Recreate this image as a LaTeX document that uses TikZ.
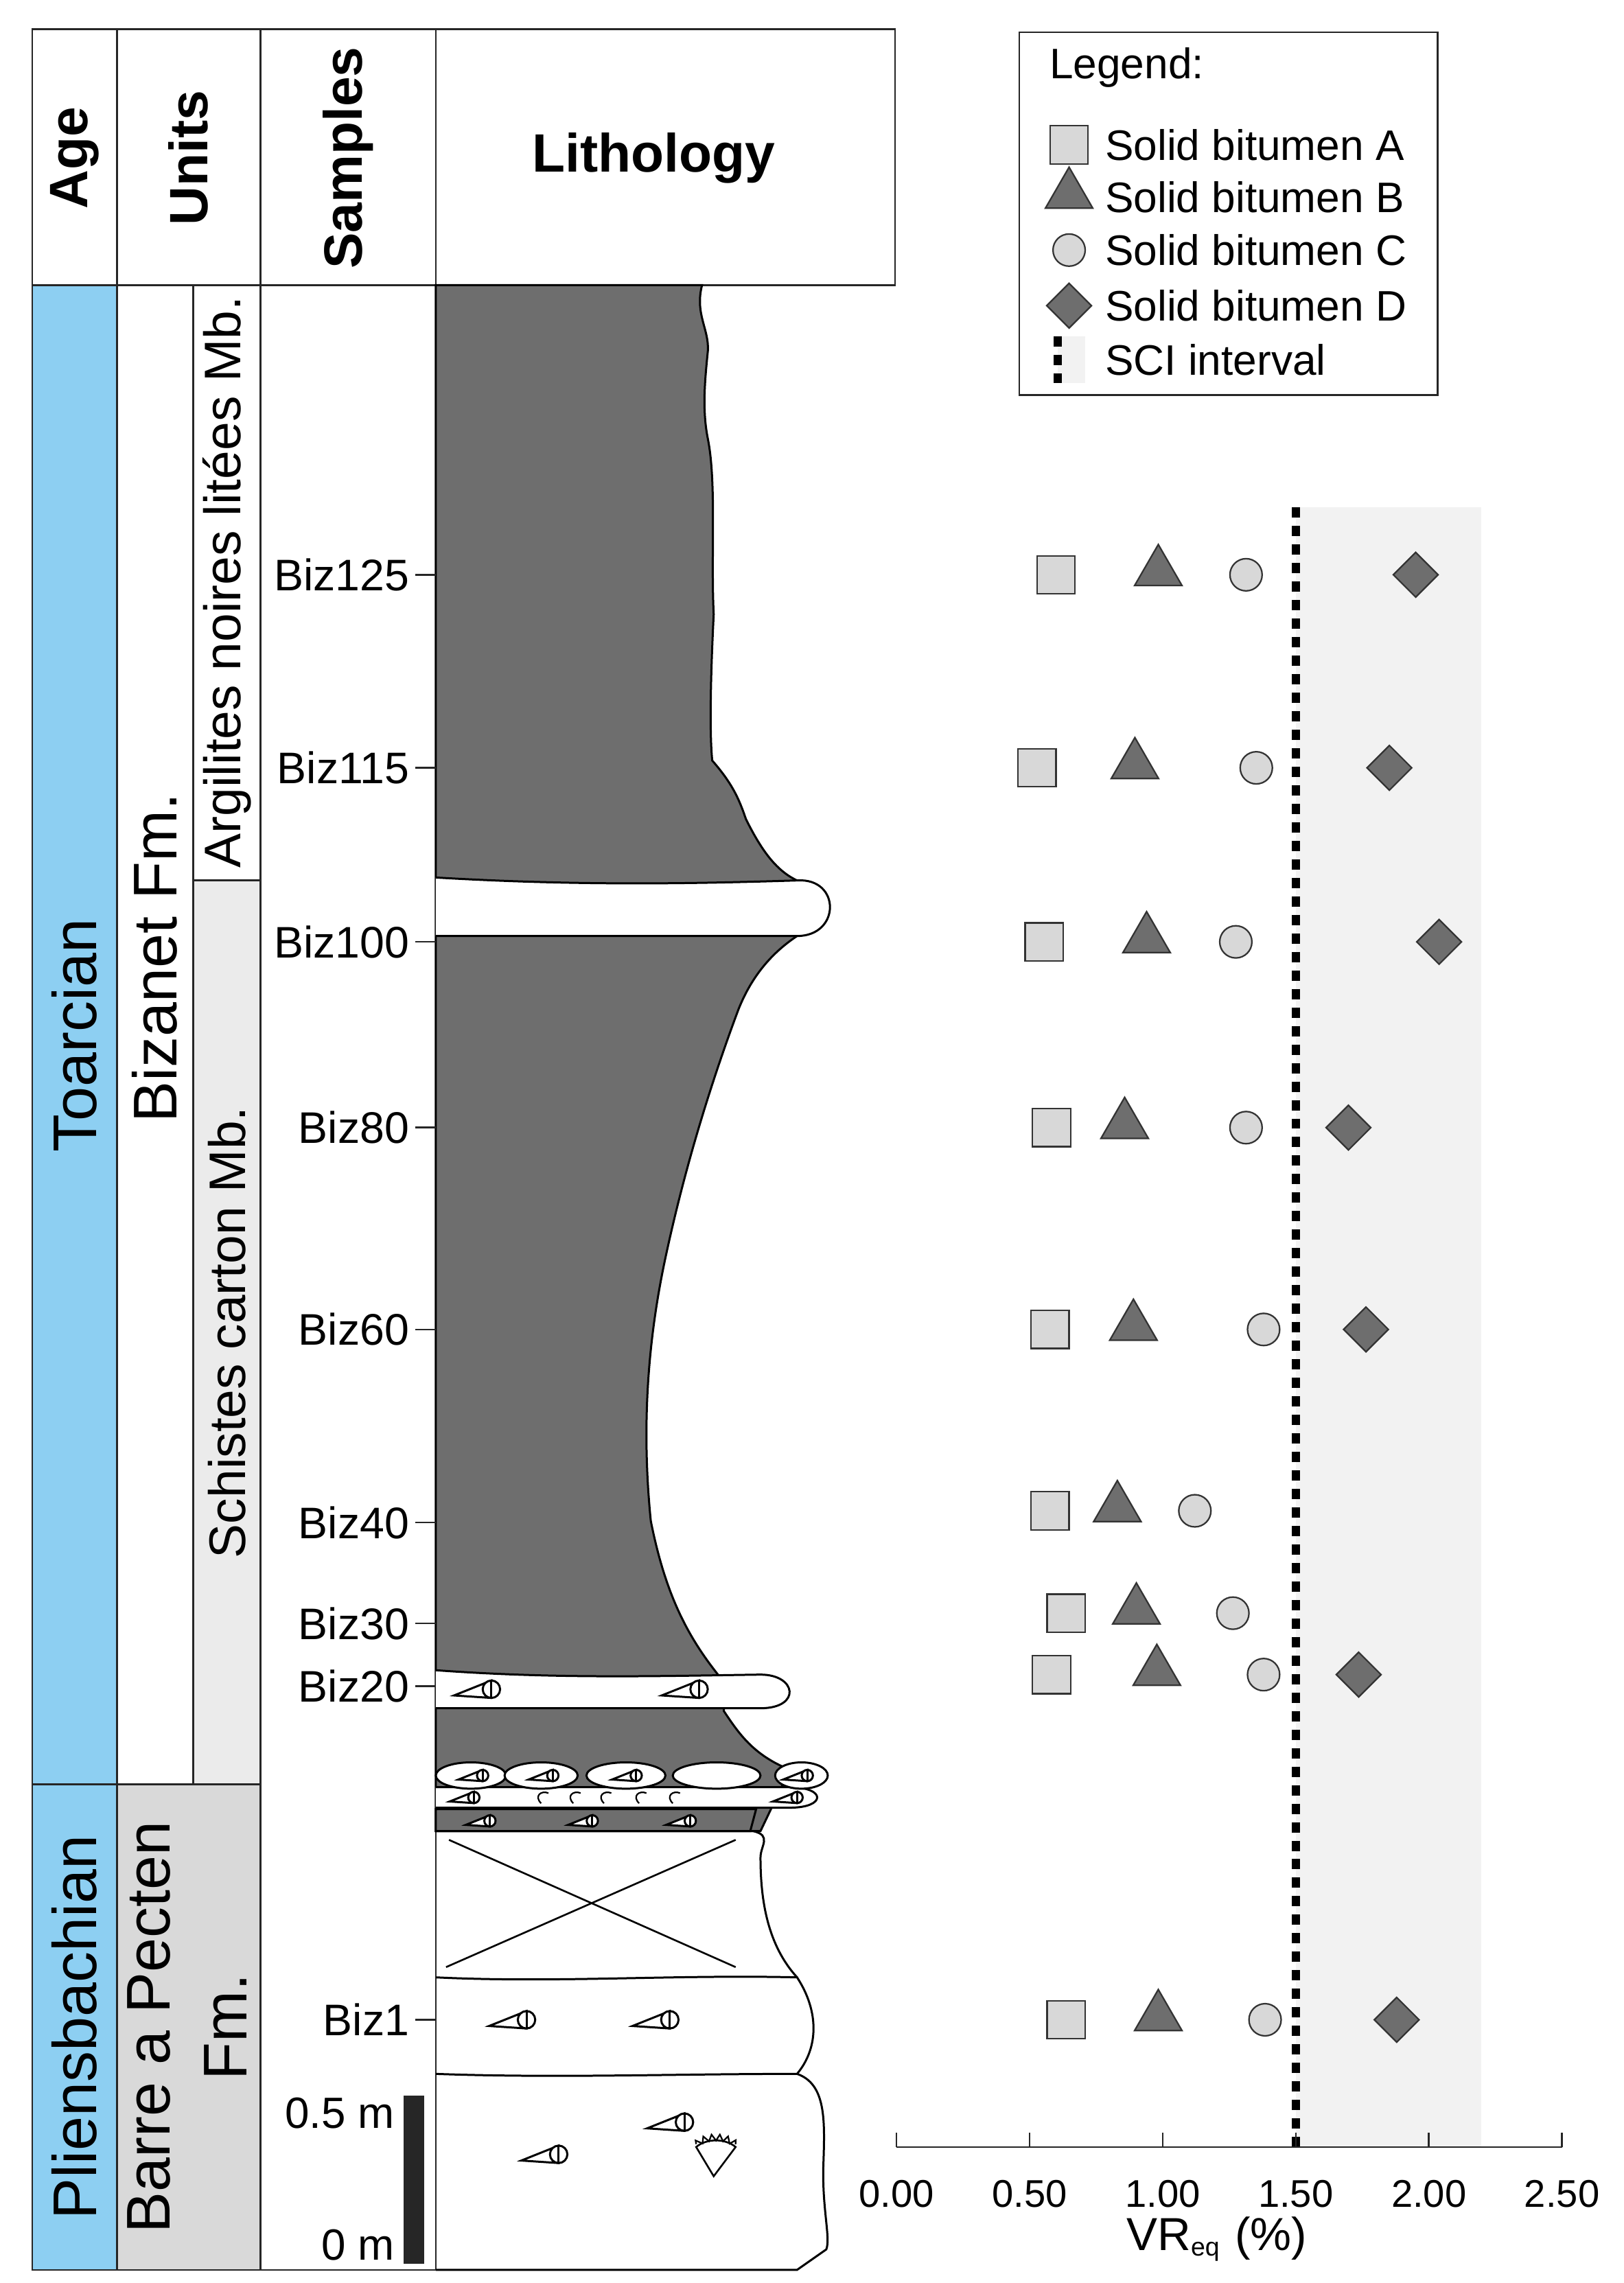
\documentclass[tikz,border=0pt]{standalone}
\usepackage{fontspec}
\setmainfont{Liberation Sans}
\usetikzlibrary{shapes.geometric,decorations.pathmorphing}
\definecolor{blueA}{HTML}{8DCFF2}
\definecolor{grayB}{HTML}{D9D9D9}
\definecolor{grayC}{HTML}{EBEBEB}
\definecolor{dark}{HTML}{6E6E6E}
\definecolor{mk}{HTML}{D8D8D8}
\definecolor{mkd}{HTML}{6E6E6E}
\definecolor{sci}{HTML}{F2F2F2}
\tikzset{
 ln/.style={draw=black!85, line width=0.35pt},
 sq/.style={rectangle, draw=black!80, fill=mk, minimum size=0.26cm, inner sep=0pt, line width=0.3pt},
 tri/.style={isosceles triangle, isosceles triangle apex angle=60, shape border rotate=90, draw=black!80, fill=mkd, minimum size=0.28cm, inner sep=0pt, line width=0.3pt},
 circ/.style={circle, draw=black!80, fill=mk, minimum size=0.22cm, inner sep=0pt, line width=0.3pt},
 dia/.style={diamond, draw=black!80, fill=mkd, minimum size=0.31cm, inner sep=0pt, line width=0.3pt},
 samp/.style={anchor=east, inner sep=1pt, font=\fontsize{8.6}{10}\selectfont},
 tick/.style={font=\fontsize{7.5}{9}\selectfont},
 leg/.style={anchor=west, inner sep=0pt, font=\fontsize{8.3}{10}\selectfont},
 head/.style={rotate=90, font=\bfseries\fontsize{10.5}{12}\selectfont},
 big/.style={rotate=90, font=\fontsize{12}{14}\selectfont},
 bel/.pic={\draw[line width=0.4pt,fill=white] (-30,5) -- (0,-7) -- (0,7) -- cycle;
   \draw[line width=0.4pt,fill=white] (0,0) circle (0.07cm);
   \draw[line width=0.4pt] (0,-7)--(0,7);}
}
\begin{document}
\begin{tikzpicture}[x=0.01cm,y=-0.01cm]
\useasboundingbox[fill=white] (0,0) rectangle (1110,1561);
% columns
\fill[blueA] (22,195) rectangle (80,1552);
\fill[grayC] (132,602) rectangle (178,1220);
\fill[grayB] (80,1220) rectangle (178,1552);
\draw[ln] (22,20) rectangle (612,195);
\draw[ln] (22,20) -- (22,1552) -- (298,1552);
\foreach \x in {80,178,298} \draw[ln] (\x,20) -- (\x,1552);
\draw[ln] (132,195) -- (132,1220);
\draw[ln] (132,602) -- (178,602);
\draw[ln] (22,1220) -- (178,1220);
% headers
\node[head] (hAge) at (51,108) {Age};
\node[head] (hUnits) at (129,108) {Units};
\node[head] (hSamp) at (238,108) {Samples};
\node[font=\bfseries\fontsize{10.5}{12}\selectfont] (hLith) at (447,108) {Lithology};
\node[big] (toar) at (51,708) {Toarcian};
\node[big] (plie) at (51,1386) {Pliensbachian};
\node[big] (biz) at (106,655) {Bizanet Fm.};
\node[big, font=\fontsize{10}{12}\selectfont] (arg) at (155,398) {Argilites noires litées Mb.};
\node[big, font=\fontsize{10}{12}\selectfont] (sch) at (155,911) {Schistes carton Mb.};
\node[big, align=center, font=\fontsize{12}{15}\selectfont] (bap) at (128,1386) {Barre a Pecten\\Fm.};
% lithology dark
\fill[dark, draw=black, line width=0.4pt] (298,195) -- (480,195)
 .. controls (475,215) and (485,225) .. (484,240) .. controls (482,260) and (480,280) .. (484,300)
 .. controls (490,330) and (486,380) .. (488,420) .. controls (486,460) and (485,500) .. (487,520)
 .. controls (500,535) and (505,545) .. (510,560) .. controls (520,580) and (530,595) .. (545,602)
 -- (545,640) .. controls (530,650) and (515,665) .. (505,690)
 .. controls (490,730) and (470,790) .. (455,860) .. controls (440,930) and (440,990) .. (445,1040)
 .. controls (455,1090) and (470,1120) .. (495,1150) -- (495,1170)
 .. controls (505,1185) and (515,1200) .. (540,1210) -- (520,1252) -- (298,1252) -- cycle;
% white beds
\draw[fill=white, line width=0.4pt] (298,600) .. controls (400,606) and (480,604) .. (545,602) .. controls (575,600) and (575,640) .. (545,640) -- (298,640);
\draw[fill=white, line width=0.4pt] (298,1142) .. controls (380,1148) and (450,1146) .. (520,1145) .. controls (545,1145) and (548,1168) .. (520,1168) -- (298,1168);
\foreach \p in {(336,1155),(478,1155)} \pic[scale=0.85] at \p {bel};
% nodule layer
\draw[fill=white, line width=0.4pt] (298,1222) -- (540,1222) .. controls (565,1222) and (565,1236) .. (540,1236) -- (298,1236);
\foreach \cx/\rx in {322/24,370/25,428/27,490/30,548/18}
 \draw[fill=white, line width=0.4pt] (\cx,1214) ellipse ({\rx} and 9);
\foreach \cx in {330,378,435,552} \pic[scale=0.55] at (\cx,1214) {bel};
\foreach \cx in {324,545} \pic[scale=0.55] at (\cx,1229) {bel};
\foreach \cx in {370,392,413,437,460} \draw[line width=0.3pt] (\cx,1233) .. controls (\cx-5,1228) and (\cx,1224) .. (\cx+5,1226);
\fill[dark, draw=black, line width=0.4pt] (298,1237) -- (517,1237) -- (513,1252) -- (298,1252) -- cycle;
\foreach \cx in {335,405,472} \pic[scale=0.55] at (\cx,1245) {bel};
% covered interval
\draw[line width=0.4pt] (298,1252) -- (515,1252) .. controls (528,1255) and (520,1262) .. (520,1270)
 .. controls (520,1300) and (525,1330) .. (545,1352);
\draw[line width=0.35pt] (305,1345) -- (503,1258) (307,1258) -- (503,1345);
% bed Biz1
\draw[line width=0.4pt] (298,1352) .. controls (380,1356) and (460,1350) .. (545,1352)
 .. controls (560,1375) and (560,1400) .. (545,1418);
\draw[line width=0.4pt] (298,1418) .. controls (380,1421) and (460,1418) .. (545,1418);
\foreach \p in {(360,1381),(458,1381),(382,1473),(468,1451)} \pic[scale=0.85] at \p {bel};
% lowest bed
\draw[line width=0.4pt] (545,1418) .. controls (565,1425) and (564,1450) .. (563,1480)
 .. controls (562,1510) and (568,1530) .. (565,1538) -- (545,1552) -- (298,1552);
\draw[line width=0.35pt] (488,1488) -- (476,1468) .. controls (483,1462) and (496,1462) .. (503,1468) -- cycle;
\draw[line width=0.3pt, decorate, decoration={zigzag, amplitude=0.6pt, segment length=1.5pt}] (476,1466) .. controls (483,1460) and (496,1460) .. (503,1466);
% samples
\foreach \n/\y in {Biz125/393,Biz115/525,Biz100/644,Biz80/771,Biz60/909,Biz40/1041,Biz30/1110,Biz20/1153,Biz1/1381}{
 \draw[ln] (284,\y) -- (298,\y);
 \node[samp] (s\n) at (284,\y) {\n};
}
% scale bar
\fill[black!85] (276,1433) rectangle (290,1548);
\node[anchor=east, inner sep=1pt, font=\fontsize{8.5}{10}\selectfont] (sc1) at (274,1445) {0.5 m};
\node[anchor=east, inner sep=1pt, font=\fontsize{8.5}{10}\selectfont] (sc0) at (274,1535) {0 m};
% plot
\fill[sci] (886,347) rectangle (1013,1468);
\draw[line width=1.6pt, dash pattern=on 2pt off 1.6pt] (886,347) -- (886,1468);
\draw[ln] (613,1468) -- (1068,1468);
\foreach \v [count=\i from 0] in {0.00,0.50,1.00,1.50,2.00,2.50}{
 \draw[ln] ({613+91*\i},1468) -- ({613+91*\i},1458);
 \node[tick] (t\i) at ({613+91*\i},1500) {\v};
}
\node[font=\fontsize{9}{10}\selectfont] (xl) at (832,1531) {VR\textsubscript{\fontsize{5}{6}\selectfont eq} (\%)};
\foreach \y/\a/\b/\c/\d [count=\k] in {393/722/792/852/968,525/709/776/859/950,644/714/784/845/984,771/719/769/852/922,909/718/775/864/934,1103/729/777/843/0,1145/719/791/864/929,1381/729/792/865/955}{
 \node[sq] (a\k) at (\a,\y) {};
 \node[tri] (b\k) at (\b,\y-2) {};
 \node[circ] (c\k) at (\c,\y) {};
 \ifnum\d>0 \node[dia] (d\k) at (\d,\y) {}; \fi
}
\node[sq] (a40) at (718,1033) {};
\node[tri] (b40) at (764,1031) {};
\node[circ] (c40) at (817,1033) {};
% legend
\draw[ln] (697,22) rectangle (983,270);
\node[leg] (lt) at (717,46) {Legend:};
\node[sq] (la) at (731,99) {}; \node[leg] (lat) at (755,99) {Solid bitumen A};
\node[tri] (lb) at (731,133) {}; \node[leg] (lbt) at (755,135) {Solid bitumen B};
\node[circ] (lc) at (731,171) {}; \node[leg] (lct) at (755,171) {Solid bitumen C};
\node[dia] (ld) at (731,209) {}; \node[leg] (ldt) at (755,209) {Solid bitumen D};
\fill[sci] (723,230) rectangle (742,262);
\draw[line width=1.6pt, dash pattern=on 2pt off 1.6pt] (723,230) -- (723,262);
\node[leg] (lst) at (755,246) {SCI interval};
\end{tikzpicture}
\end{document}
